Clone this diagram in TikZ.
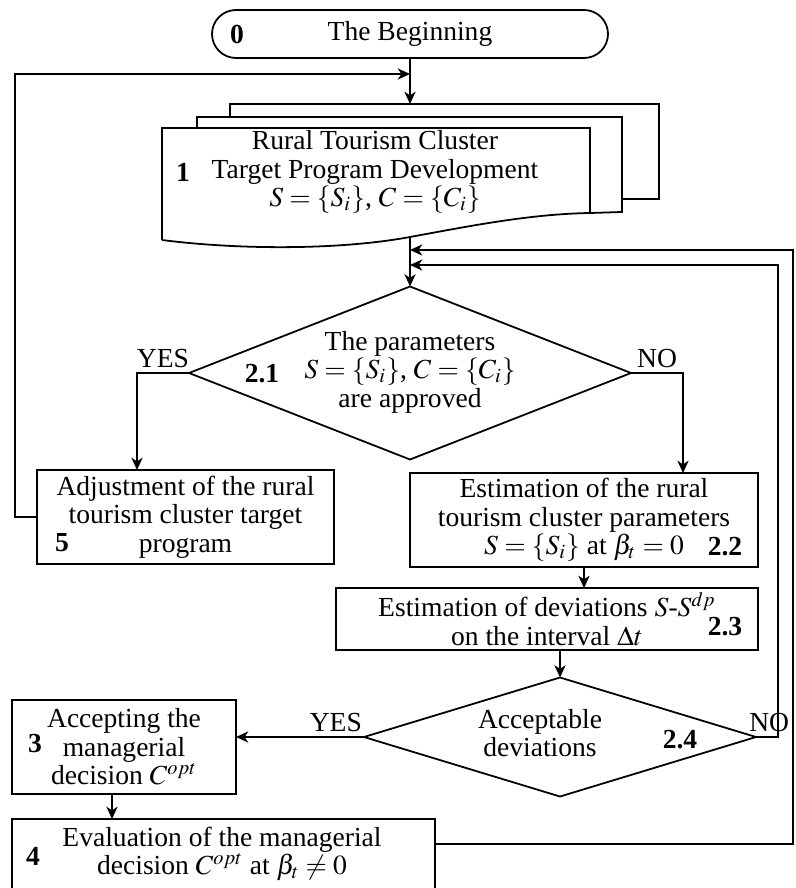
\documentclass[tikz,border=0pt]{standalone}
\usepackage{mathptmx}
\usepackage[no-math]{fontspec}
\setmainfont{Liberation Serif}
\usetikzlibrary{arrows.meta, calc, shapes.geometric}
\newcommand{\pxu}{0.45pt}

\begin{document}
\begin{tikzpicture}[x=0.45pt, y=-0.45pt, line width=0.8pt, font=\fontsize{12.4}{12.8}\selectfont]
	\tikzstyle{block}=[draw, align=center, inner sep=0pt, outer sep=0pt]
	\tikzstyle{terminal}=[
		block,
		rounded corners=10.8pt,
		minimum width=396*\pxu,
		minimum height=48*\pxu
	]
	\tikzstyle{decision}=[draw, diamond, inner sep=0pt, outer sep=0pt]
	\tikzstyle{num}=[font=\fontsize{12.4}{12.8}\selectfont\bfseries, inner sep=0pt]
	\tikzstyle{flow}=[-{Stealth[length=5.5pt, width=5pt, inset=1.6pt]}]
	\tikzstyle{lbl}=[inner sep=0pt, above=2pt]

	\useasboundingbox (0,0) rectangle (795,888);

	% start
	\node (start) at (410,34) [terminal] {The Beginning};
	\node (n0) at (237,34) [num] {0};

	% stack of documents
	\draw (230,117) -- (230,104) -- (659,104) -- (659,199) -- (622,199);
	\draw (197,128) -- (197,117) -- (622,117) -- (622,212) -- (590,213);
	\draw (162,240) -- (162,128) -- (590,128) -- (590,213)
		.. controls (530,214) and (470,226) .. (410,237)
		.. controls (340,250) and (240,250) .. (162,240);
	\coordinate (doctop) at (410,104);
	\coordinate (docbot) at (410,237);
	\node (doc) at (375,172) [align=center] {Rural Tourism Cluster\\Target Program Development\\$S=\{S_i\}$, $C=\{C_i\}$};
	\node (n1) at (183,172) [num] {1};

	% check of the parameters
	\node (d21) at (410,373) [decision, minimum width=442*\pxu, minimum height=173*\pxu] {};
	\node (t21) at (410,372) [align=center] {The parameters\\$S=\{S_i\}$, $C=\{C_i\}$\\are approved};
	\node (n21) at (262,374) [num] {2.1};

	\node (b5) at (185.5,517) [block, minimum width=297*\pxu, minimum height=94*\pxu] {Adjustment of the rural\\tourism cluster target\\program};
	\node (n5) at (62,543) [num] {5};

	\node (b22) at (584,520) [block, minimum width=348*\pxu, minimum height=94*\pxu] {Estimation of the rural\\tourism cluster parameters\\$S=\{S_i\}$ at $\beta_t=0$};
	\node (n22) at (725,547) [num] {2.2};

	\node (b23) at (547,619) [block, minimum width=422*\pxu, minimum height=62*\pxu] {Estimation of deviations $S$-$S^{dp}$\\on the interval $\Delta t$};
	\node (n23) at (725,627) [num] {2.3};

	% check of the deviations
	\node (d24) at (560,737) [decision, minimum width=392*\pxu, minimum height=119*\pxu] {};
	\node (t24) at (540,733) [align=center] {Acceptable\\deviations};
	\node (n24) at (680,740) [num] {2.4};

	\node (b3) at (124,747) [block, minimum width=224*\pxu, minimum height=94*\pxu] {Accepting the\\managerial\\decision $C^{opt}$};
	\node (n3) at (35,744) [num] {3};

	\node (b4) at (223.5,860) [block, minimum width=423*\pxu, minimum height=82*\pxu] {};
	\node (t4) at (222,854) [align=center] {Evaluation of the managerial\\decision $C^{opt}$ at $\beta_t\neq 0$};
	\node (n4) at (33,856) [num] {4};

	% junctions
	\coordinate (j0) at (410,74);
	\coordinate (j1) at (410,250);
	\coordinate (j2) at (410,265);
	\coordinate (lp) at (15,74);
	\coordinate (rp1) at (793,250);
	\coordinate (rp2) at (778,265);

	% connectors
	\draw [flow] (start) -- (doctop);
	\draw [flow] (docbot) -- (d21.north);
	\draw [flow] (d21.west) -| ($(b5.north west)+(100,0)$)
		node[pos=0.25, lbl]{YES};
	\draw [flow] (d21.east) -| ($(b22.north west)+(273,0)$)
		node[pos=0.25, lbl]{NO};
	\draw [flow] (b5.west) -| (lp) -- (j0);
	\draw [flow] (b22.south) -- (b22.south |- b23.north);
	\draw [flow] (d24.north |- b23.south) -- (d24.north);
	\draw [flow] (d24.west) -- (d24.west -| b3.east)
		node[pos=0.22, lbl]{YES};
	\draw [flow] ($(b3.south)+(-12,0)$) -- ($(b4.north west)+(100,0)$);
	\draw [flow] (d24.east) -| (rp2)
		node[pos=0.3, lbl]{NO} -- (j2);
	\draw [flow] ($(b4.north east)+(0,25)$) -| (rp1) -- (j1);
\end{tikzpicture}
\end{document}
